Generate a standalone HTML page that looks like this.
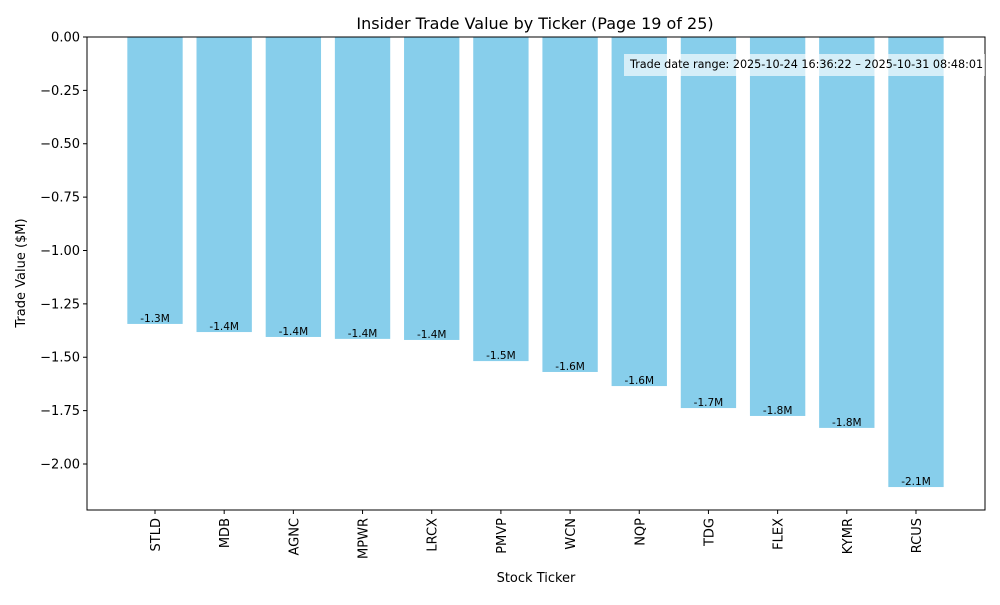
<!DOCTYPE html>
<html><head><meta charset="utf-8"><style>
body{margin:0;background:#fff;font-family:"Liberation Sans","DejaVu Sans",sans-serif;}
svg text{font-family:"DejaVu Sans","Liberation Sans",sans-serif;}
</style></head><body>
<svg id="chart" width="1000" height="600" xmlns="http://www.w3.org/2000/svg">
<rect width="1000" height="600" fill="#fff"/>
<text x="535" y="29" text-anchor="middle" font-size="16">Insider Trade Value by Ticker (Page 19 of 25)</text>
<g id="bars"></g><g id="yaxis"></g><g id="xaxis"></g>
<rect x="87" y="37" width="898" height="473" fill="none" stroke="#000" stroke-width="1"/>
<rect x="624" y="54" width="361" height="22" fill="#fff" fill-opacity="0.65"/>
<text x="630" y="68" font-size="11.2">Trade date range: 2025-10-24 16:36:22 – 2025-10-31 08:48:01</text>
<text x="536" y="582" text-anchor="middle" font-size="13">Stock Ticker</text>
<text transform="translate(25,273) rotate(-90)" text-anchor="middle" font-size="13">Trade Value ($M)</text>
</svg>
<script>
const tickers=["STLD","MDB","AGNC","MPWR","LRCX","PMVP","WCN","NQP","TDG","FLEX","KYMR","RCUS"];
const values=[-1.344,-1.382,-1.405,-1.414,-1.419,-1.518,-1.569,-1.635,-1.738,-1.775,-1.831,-2.108];
const labels=["-1.3M","-1.4M","-1.4M","-1.4M","-1.4M","-1.5M","-1.6M","-1.6M","-1.7M","-1.8M","-1.8M","-2.1M"];
const yTicks=[0,-0.25,-0.5,-0.75,-1.0,-1.25,-1.5,-1.75,-2.0];
const yTickLabels=["0.00","−0.25","−0.50","−0.75","−1.00","−1.25","−1.50","−1.75","−2.00"];
const NS="http://www.w3.org/2000/svg";
const yMin=-2.2155,yMax=0,plotTop=37,plotBot=510;
const y=v=>plotTop+(yMax-v)/(yMax-yMin)*(plotBot-plotTop);
const step=69.18,x=i=>155+step*i,bw=step*0.8;
function mk(t,a,p){const e=document.createElementNS(NS,t);for(const k in a)e.setAttribute(k,a[k]);p.appendChild(e);return e;}
const gb=document.getElementById('bars'),gy=document.getElementById('yaxis'),gx=document.getElementById('xaxis');
values.forEach((v,i)=>{
 const r=mk('rect',{x:x(i)-bw/2,y:y(0),width:bw,height:y(v)-y(0),fill:'#87ceeb'},gb);
 
 
 const t=mk('text',{x:x(i),y:y(v)-2,'text-anchor':'middle','font-size':'10.5'},gb);t.textContent=labels[i];
 
 
 mk('line',{x1:x(i),x2:x(i),y1:plotBot,y2:plotBot+4,stroke:'#000'},gx);
 const xt=mk('text',{transform:`translate(${x(i)+5},${plotBot+8}) rotate(-90)`,'text-anchor':'end','font-size':'13'},gx);xt.textContent=tickers[i];
 
 
});
yTicks.forEach((v,i)=>{
 mk('line',{x1:83,x2:87,y1:y(v),y2:y(v),stroke:'#000'},gy);
 const t=mk('text',{x:80,y:y(v)+4.5,'text-anchor':'end','font-size':'13'},gy);t.textContent=yTickLabels[i];
 
 
});
</script>
</body></html>
